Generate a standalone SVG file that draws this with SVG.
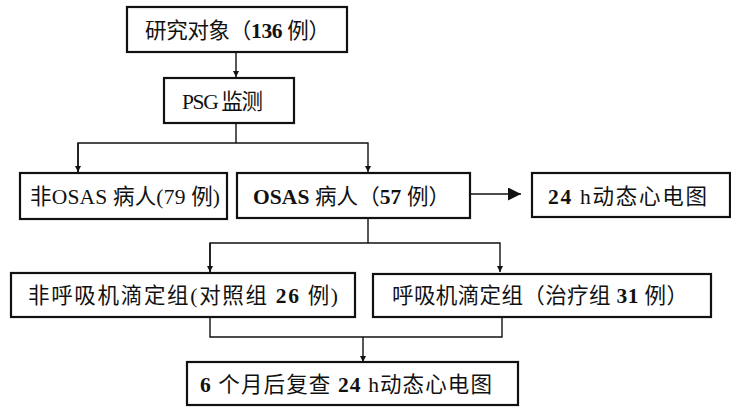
<svg xmlns="http://www.w3.org/2000/svg" width="731" height="407" viewBox="0 0 731 407">
<defs>
<style>
.box{fill:#fff;stroke:#111;stroke-width:2.2}
.ln{fill:none;stroke:#111;stroke-width:1.4}
.t{font-family:"Liberation Serif","Noto Sans CJK SC",serif;font-size:21.5px;fill:#111;font-weight:400}
.b{font-weight:700}
</style>
<marker id="ah" viewBox="0 0 10 10" refX="10" refY="5" markerWidth="6.5" markerHeight="7.5" markerUnits="userSpaceOnUse" orient="auto"><path d="M0,0L10,5L0,10z" fill="#111"/></marker>
<marker id="ahb" viewBox="0 0 10 10" refX="10" refY="5" markerWidth="14" markerHeight="13" markerUnits="userSpaceOnUse" orient="auto"><path d="M0,0L10,5L0,10z" fill="#111"/></marker>
</defs>
<g id="connectors">
<path class="ln" d="M236,52V77" marker-end="url(#ah)"/>
<path class="ln" d="M236,123V143M78,172V143H368V172" marker-end="url(#ah)"/>
<path class="ln" d="M78,143V172" marker-end="url(#ah)"/>
<path class="ln" d="M470,194H521" marker-end="url(#ahb)"/>
<path class="ln" d="M368,218V243M210,272V243H500V272" marker-end="url(#ah)"/>
<path class="ln" d="M210,243V272" marker-end="url(#ah)"/>
<path class="ln" d="M210,317V337H502V317M363,337V362" marker-end="url(#ah)"/>
</g>
<g id="n1"><rect class="box" x="127" y="7" width="220" height="45"/><text class="t" x="145" y="38" textLength="185" lengthAdjust="spacing">研究对象（<tspan class="b">136</tspan> 例）</text></g>
<g id="n2"><rect class="box" x="164" y="78" width="130" height="45"/><text class="t" x="182" y="109" textLength="81" lengthAdjust="spacing">PSG 监测</text></g>
<g id="n3"><rect class="box" x="20" y="173" width="207" height="46"/><text class="t" x="30" y="204" textLength="190" lengthAdjust="spacing">非OSAS 病人(79 例)</text></g>
<g id="n4"><rect class="box" x="237" y="173" width="233" height="45"/><text class="t" x="253" y="204" textLength="197" lengthAdjust="spacing"><tspan class="b">OSAS</tspan> 病人（<tspan class="b">57</tspan> 例）</text></g>
<g id="n5"><rect class="box" x="532" y="173" width="198" height="44"/><text class="t" x="548" y="204" textLength="159" lengthAdjust="spacing"><tspan class="b">24</tspan> h动态心电图</text></g>
<g id="n6"><rect class="box" x="11" y="273" width="344" height="44"/><text class="t" x="28" y="303" textLength="310" lengthAdjust="spacing">非呼吸机滴定组(对照组 <tspan class="b">26</tspan> 例)</text></g>
<g id="n7"><rect class="box" x="373" y="274" width="338" height="43"/><text class="t" x="392" y="303" textLength="296" lengthAdjust="spacing">呼吸机滴定组（治疗组 <tspan class="b">31</tspan> 例）</text></g>
<g id="n8"><rect class="box" x="187" y="362" width="331" height="43"/><text class="t" x="200" y="392" textLength="292" lengthAdjust="spacing"><tspan class="b">6</tspan> 个月后复查 <tspan class="b">24</tspan> h动态心电图</text></g>
</svg>
